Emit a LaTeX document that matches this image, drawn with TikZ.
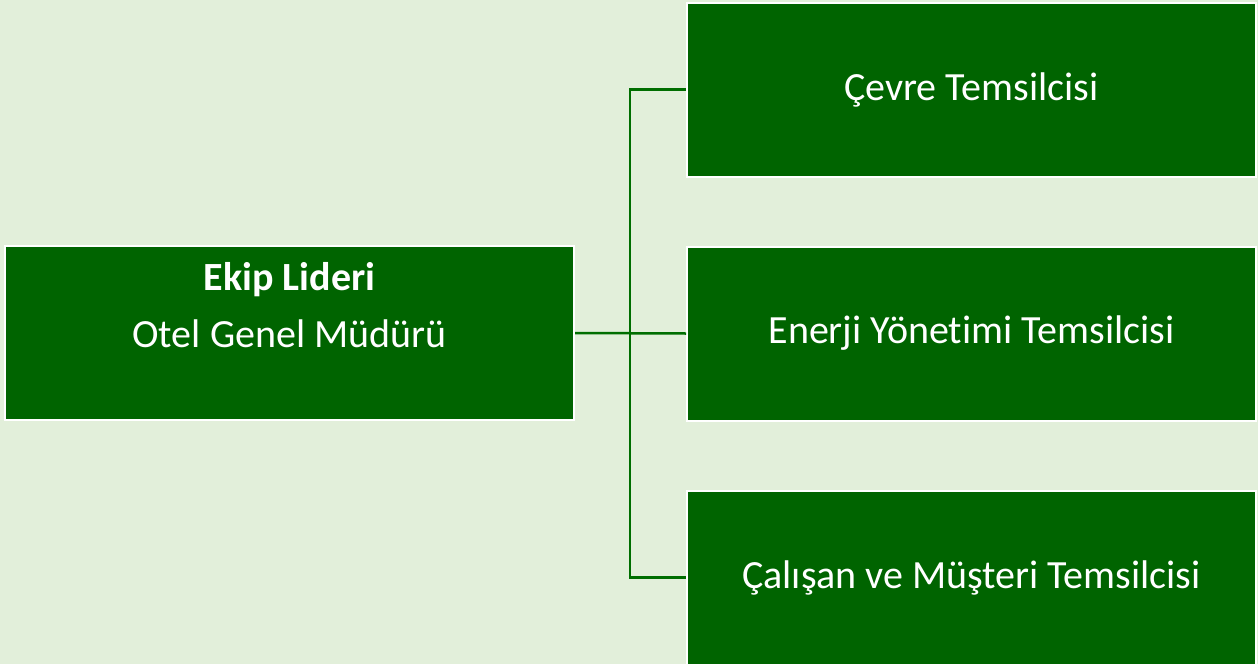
\documentclass[tikz,border=0pt]{standalone}
\usepackage{fontspec}
\setmainfont{Carlito}[Ligatures={NoCommon}]
\usepackage{tikz}
\usetikzlibrary{backgrounds}
\definecolor{boxgreen}{RGB}{0,100,0}
\definecolor{linkgreen}{RGB}{0,110,0}
\definecolor{bggreen}{RGB}{226,239,218}
\tikzset{unit/.style={draw=white, line width=2pt, fill=boxgreen, text=white,
    minimum width=569pt, minimum height=174pt, inner sep=0pt, align=center,
    font=\fontsize{40}{57}\selectfont}}

\begin{document}
\begin{tikzpicture}[x=1pt, y=-1pt, background rectangle/.style={fill=bggreen}, show background rectangle, inner frame sep=0pt]
                \useasboundingbox (0,0) rectangle (1258,664);
                \node[unit] (leader) at (289.5,333) {\textbf{Ekip Lideri}\\Otel Genel Müdürü\\\mbox{}};
                \node[unit] (env) at (971.5,89.5) {Çevre Temsilcisi};
                \node[unit] (energy) at (971.5,333.5) {Enerji Yönetimi Temsilcisi};
                \node[unit] (staff) at (971.5,577.5) {Çalışan ve Müşteri Temsilcisi};
                \coordinate (hub) at (630,333.5);
                \draw[linkgreen, line width=2.5pt] (leader.east) -- (energy.west);
                \draw[linkgreen, line width=2.5pt] (env.west) -| (hub) |- (staff.west);
            \end{tikzpicture}
\end{document}
